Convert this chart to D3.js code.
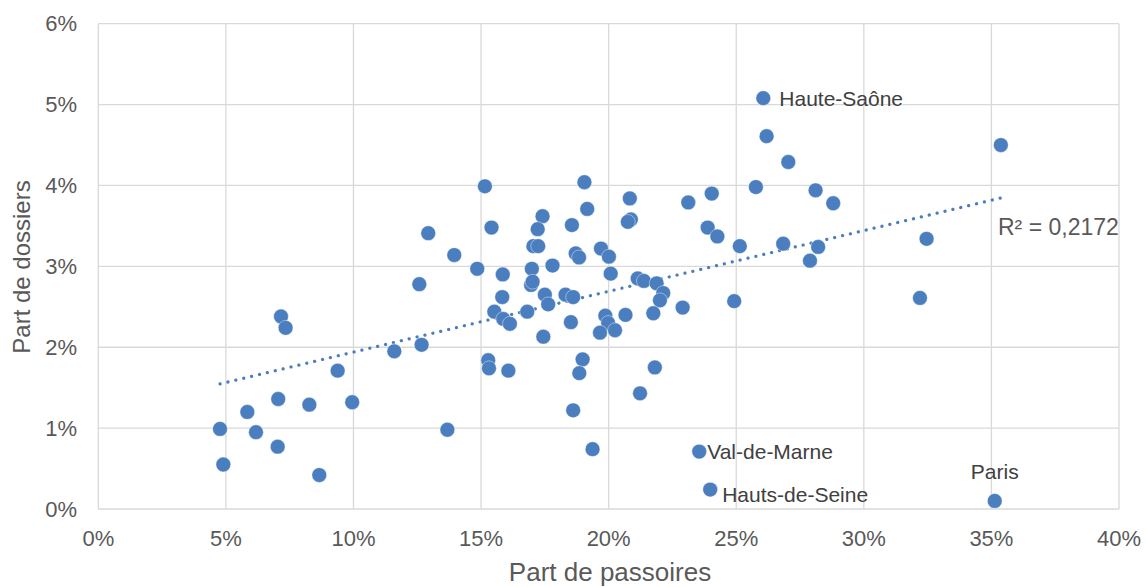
<!DOCTYPE html>
<html>
<head>
<meta charset="utf-8">
<script src="https://cdn.jsdelivr.net/npm/d3@7"></script>
<style>
  html, body { margin: 0; padding: 0; background: #fff; }
  svg { display: block; font-family: "Liberation Sans", Arial, sans-serif; }
</style>
</head>
<body>
<svg id="chart" width="1146" height="587"></svg>
<script>
// ---- Data (percent values) ----
const passoires = [
  7.16, 7.34, 11.60, 9.38, 7.05, 8.27, 9.95, 5.84, 4.77, 6.18, 7.03, 4.90, 8.66,
  15.15, 19.05, 20.83, 23.12, 19.16, 17.41, 20.87, 20.75, 15.41, 12.93, 17.22, 18.56,
  13.95, 17.05, 17.24, 18.71, 18.84, 19.70, 20.01, 14.85, 17.80, 16.99, 15.85, 20.08,
  16.96, 17.02, 12.58, 21.14, 21.38, 21.88, 22.14, 22.01, 15.83, 17.50, 17.63, 18.31,
  18.61, 22.90, 21.75, 20.66, 15.52, 15.87, 16.13, 16.81, 19.87, 19.98, 20.25, 19.66,
  18.52, 17.44, 12.67, 15.28, 15.31, 16.07, 18.98, 18.85, 21.81, 21.23, 18.61, 13.68,
  19.37, 23.55, 26.06, 26.19, 27.04, 25.77, 28.11, 28.80, 24.04, 23.88, 24.26, 25.14,
  26.84, 28.21, 27.89, 24.92, 32.20, 32.46, 35.37, 35.13, 23.98
];
const dossiers = [
  2.38, 2.24, 1.95, 1.71, 1.36, 1.29, 1.32, 1.20, 0.99, 0.95, 0.77, 0.55, 0.42,
  3.99, 4.04, 3.84, 3.79, 3.71, 3.62, 3.58, 3.55, 3.48, 3.41, 3.46, 3.51,
  3.14, 3.25, 3.25, 3.16, 3.11, 3.22, 3.12, 2.97, 3.01, 2.97, 2.90, 2.91,
  2.77, 2.81, 2.78, 2.85, 2.82, 2.79, 2.67, 2.58, 2.62, 2.65, 2.53, 2.65,
  2.62, 2.49, 2.42, 2.40, 2.44, 2.35, 2.29, 2.44, 2.39, 2.30, 2.21, 2.18,
  2.31, 2.13, 2.03, 1.84, 1.74, 1.71, 1.85, 1.68, 1.75, 1.43, 1.22, 0.98,
  0.74, 0.71, 5.08, 4.61, 4.29, 3.98, 3.94, 3.78, 3.90, 3.48, 3.37, 3.25,
  3.28, 3.24, 3.07, 2.57, 2.61, 3.34, 4.50, 0.10, 0.24
];
const labelNames = ["Val-de-Marne", "Haute-Saône", "Paris", "Hauts-de-Seine"];
const labelIndex = [74, 75, 92, 93];
const xTicks = [0, 5, 10, 15, 20, 25, 30, 35, 40];
const yTicks = [0, 1, 2, 3, 4, 5, 6];
const r2Text = "R² = 0,2172";
const xTitle = "Part de passoires";
const yTitle = "Part de dossiers";

// ---- Styles / layout ----
const labelStyle = {
  "Val-de-Marne":   { dx: 8,   dy: 0,   anchor: "start",  base: "central" },
  "Haute-Saône":    { dx: 16,  dy: 0,   anchor: "start",  base: "central" },
  "Paris":          { dx: 0,   dy: -22, anchor: "middle", base: "auto" },
  "Hauts-de-Seine": { dx: 12,  dy: 12,  anchor: "start",  base: "auto" }
};
const plot = { left: 98.3, right: 1119, top: 23.7, bottom: 509 };
const blue = "#4a7ebf";
const textColor = "#595959";
const gridColor = "#d9d9d9";

const svg = d3.select("#chart");
const x = d3.scaleLinear().domain([0, 40]).range([plot.left, plot.right]);
const y = d3.scaleLinear().domain([0, 6]).range([plot.bottom, plot.top]);

// gridlines
const g = svg.append("g");
g.selectAll(".vgrid").data(xTicks).join("line")
  .attr("x1", d => x(d)).attr("x2", d => x(d))
  .attr("y1", plot.top).attr("y2", plot.bottom)
  .attr("stroke", gridColor).attr("stroke-width", 1.3);
g.selectAll(".hgrid").data(yTicks).join("line")
  .attr("x1", plot.left).attr("x2", plot.right)
  .attr("y1", d => y(d)).attr("y2", d => y(d))
  .attr("stroke", gridColor).attr("stroke-width", 1.3);

// tick labels
svg.append("g").selectAll("text").data(xTicks).join("text")
  .attr("x", d => x(d)).attr("y", 546)
  .attr("text-anchor", "middle")
  .attr("font-size", 22).attr("fill", textColor)
  .text(d => d + "%");
svg.append("g").selectAll("text").data(yTicks).join("text")
  .attr("x", 77).attr("y", d => y(d))
  .attr("dy", "0.35em")
  .attr("text-anchor", "end")
  .attr("font-size", 22).attr("fill", textColor)
  .text(d => d + "%");

// axis titles
svg.append("text")
  .attr("x", 610).attr("y", 581)
  .attr("text-anchor", "middle")
  .attr("font-size", 26).attr("fill", textColor)
  .text(xTitle);
svg.append("text")
  .attr("transform", "translate(30,267) rotate(-90)")
  .attr("text-anchor", "middle")
  .attr("font-size", 24).attr("fill", textColor)
  .text(yTitle);

// linear trendline computed from data
const n = passoires.length;
const mx = d3.mean(passoires), my = d3.mean(dossiers);
let sxy = 0, sxx = 0;
for (let i = 0; i < n; i++) {
  sxy += (passoires[i] - mx) * (dossiers[i] - my);
  sxx += (passoires[i] - mx) ** 2;
}
const slope = sxy / sxx, intercept = my - slope * mx;
const [xmin, xmax] = d3.extent(passoires);
const trend = [[xmin, intercept + slope * xmin], [xmax, intercept + slope * xmax]];
svg.append("path")
  .attr("d", d3.line().x(d => x(d[0])).y(d => y(d[1]))(trend))
  .attr("fill", "none").attr("stroke", blue)
  .attr("stroke-width", 3.2).attr("stroke-linecap", "round")
  .attr("stroke-dasharray", "0.1 8");

// points
const pts = passoires.map((v, i) => ({ x: v, y: dossiers[i] }));
svg.append("g").selectAll("circle").data(pts).join("circle")
  .attr("cx", d => x(d.x)).attr("cy", d => y(d.y))
  .attr("r", 7.4)
  .attr("fill", blue)
  .attr("stroke", "#ffffff").attr("stroke-opacity", 0.6).attr("stroke-width", 0.7);

// data labels
svg.append("g").selectAll("text").data(labelNames).join("text")
  .attr("x", (d, i) => x(passoires[labelIndex[i]]) + labelStyle[d].dx)
  .attr("y", (d, i) => y(dossiers[labelIndex[i]]) + labelStyle[d].dy)
  .attr("text-anchor", d => labelStyle[d].anchor)
  .attr("dominant-baseline", d => labelStyle[d].base)
  .attr("font-size", 21).attr("fill", "#404040")
  .text(d => d);

// R² label
svg.append("text")
  .attr("x", 998).attr("y", 235)
  .attr("font-size", 23).attr("fill", textColor)
  .text(r2Text);
</script>
</body>
</html>
